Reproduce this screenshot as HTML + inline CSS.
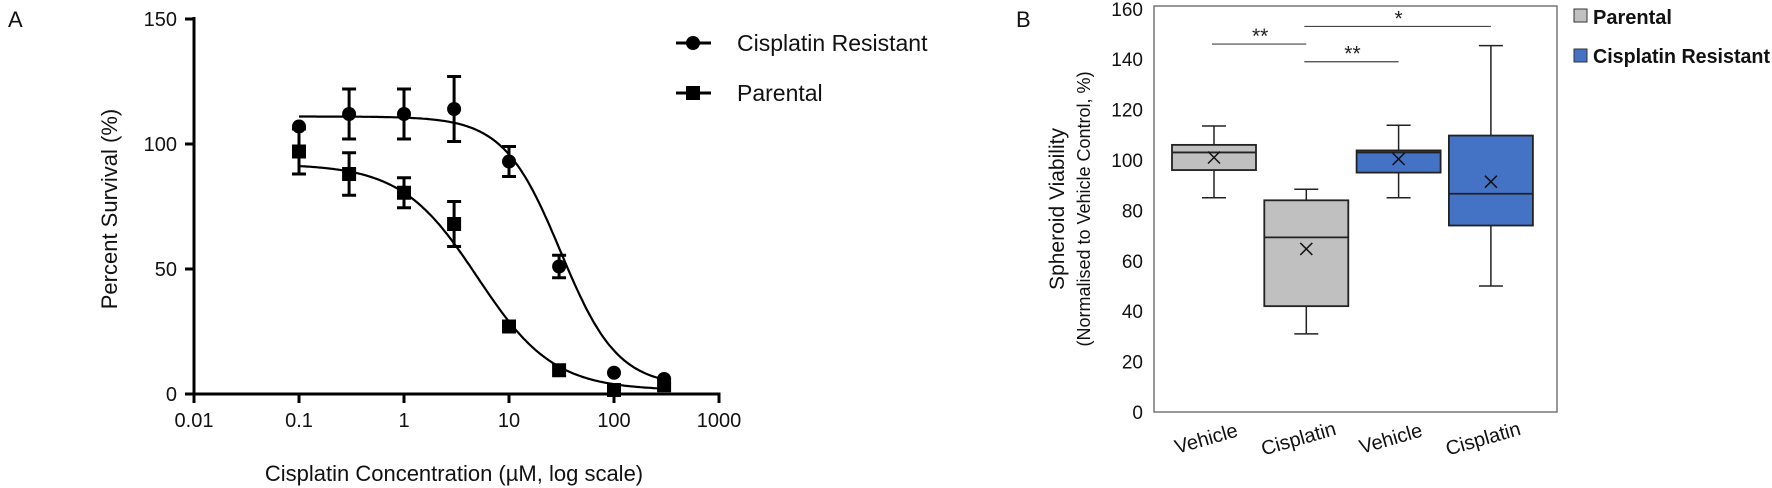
<!DOCTYPE html>
<html><head><meta charset="utf-8"><style>
html,body{margin:0;padding:0;background:#fff;}
svg{display:block;font-family:"Liberation Sans",sans-serif;}
</style></head><body>
<svg id="fig" width="1772" height="488" viewBox="0 0 1772 488">
<g id="A"></g>
<g id="B"></g>
</svg>
<script>
// ---- Panel A data ----
const doses = [0.1, 0.3, 1, 3, 10, 30, 100, 300];
const resistantMean = [107, 112, 112, 114, 93, 51, 8.5, 6];
const resistantErr = [0, 10, 10, 13, 6, 4.5, 0, 0];
const parentalMean = [97, 88, 80.5, 68, 27, 9.5, 1.6, 3.5];
const parentalErr = [9, 8.5, 6, 9, 0, 0, 0, 0];
const resistantFit = [111, 3, 31, 1.6];   // top, bottom, IC50, hill
const parentalFit = [92, 1.5, 5, 1.2];
const xTicksA = [0.01, 0.1, 1, 10, 100, 1000];
const xTickLabelsA = ["0.01", "0.1", "1", "10", "100", "1000"];
const yTicksA = [0, 50, 100, 150];

// ---- Panel B data ----
const categoriesB = ["Vehicle", "Cisplatin", "Vehicle", "Cisplatin"];
const groupB = ["Parental", "Parental", "Resistant", "Resistant"];
const whiskerLow = [85, 31, 85, 50];
const q1 = [96, 42, 95, 74];
const medianB = [103, 69.3, 103, 86.6];
const q3 = [106, 84, 103.8, 109.7];
const whiskerHigh = [113.5, 88.4, 113.8, 145.4];
const meanB = [101, 64.7, 100.4, 91.4];
const yTicksB = [0, 20, 40, 60, 80, 100, 120, 140, 160];
const sigFrom = [0, 1, 1];
const sigTo = [1, 2, 3];
const sigLabel = ["**", "**", "*"];
const sigLevel = [146, 139, 153];

const NS = "http://www.w3.org/2000/svg";
function mk(parent, tag, attrs, text){
  const e = document.createElementNS(NS, tag);
  for (const k in attrs) e.setAttribute(k, attrs[k]);
  if (text !== undefined) e.textContent = text;
  parent.appendChild(e); return e;
}

// ===== Panel A =====
const A = document.getElementById('A');
const ax0 = 194, decade = 105, ay0 = 394, ayPer = 2.5;
const xA = v => ax0 + (Math.log10(v) + 2) * decade;
const yA = v => ay0 - v * ayPer;
let t;
t = mk(A, 'text', {x: 8, y: 27, 'font-size': 22, fill: '#111'}, 'A');


let ln = mk(A, 'line', {x1: ax0, y1: yA(150) - 2, x2: ax0, y2: ay0 + 1.5, stroke: '#000', 'stroke-width': 3});


ln = mk(A, 'line', {x1: ax0 - 1.5, y1: ay0, x2: xA(1000) + 1.5, y2: ay0, stroke: '#000', 'stroke-width': 3});


yTicksA.forEach(v => {
  mk(A, 'line', {x1: ax0 - 9, y1: yA(v), x2: ax0, y2: yA(v), stroke: '#000', 'stroke-width': 3});
  const tt = mk(A, 'text', {x: 177, y: yA(v) + 7, 'text-anchor': 'end', 'font-size': 20, fill: '#111'}, String(v));
  
  
});
xTicksA.forEach((v, i) => {
  mk(A, 'line', {x1: xA(v), y1: ay0, x2: xA(v), y2: ay0 + 9, stroke: '#000', 'stroke-width': 3});
  const tt = mk(A, 'text', {x: xA(v), y: 427, 'text-anchor': 'middle', 'font-size': 20, fill: '#111'}, xTickLabelsA[i]);
  
  
});
t = mk(A, 'text', {x: 454, y: 481, 'text-anchor': 'middle', 'font-size': 22, fill: '#111'}, 'Cisplatin Concentration (\u00b5M, log scale)');


t = mk(A, 'text', {x: 0, y: 0, 'text-anchor': 'middle', 'font-size': 22, fill: '#111', transform: 'translate(117,209) rotate(-90)'}, 'Percent Survival (%)');



function curve(p){
  let d = '';
  for (let i = 0; i <= 200; i++) {
    const lx = Math.log10(0.1) + (Math.log10(300) - Math.log10(0.1)) * i / 200;
    const x = Math.pow(10, lx);
    const y = p[1] + (p[0] - p[1]) / (1 + Math.pow(x / p[2], p[3]));
    d += (i ? 'L' : 'M') + xA(x).toFixed(1) + ',' + yA(y).toFixed(1);
  }
  return d;
}
let c = mk(A, 'path', {d: curve(resistantFit), fill: 'none', stroke: '#000', 'stroke-width': 2.2});


c = mk(A, 'path', {d: curve(parentalFit), fill: 'none', stroke: '#000', 'stroke-width': 2.2});



function errbar(x, m, e){
  if (!e) return;
  mk(A, 'line', {x1: x, y1: yA(m + e), x2: x, y2: yA(m - e), stroke: '#000', 'stroke-width': 3});
  mk(A, 'line', {x1: x - 7, y1: yA(m + e), x2: x + 7, y2: yA(m + e), stroke: '#000', 'stroke-width': 3});
  mk(A, 'line', {x1: x - 7, y1: yA(m - e), x2: x + 7, y2: yA(m - e), stroke: '#000', 'stroke-width': 3});
}
doses.forEach((d, i) => {
  errbar(xA(d), parentalMean[i], parentalErr[i]);
  const s = mk(A, 'rect', {x: xA(d) - 7, y: yA(parentalMean[i]) - 7, width: 14, height: 14, fill: '#000'});
  
  
});
doses.forEach((d, i) => {
  errbar(xA(d), resistantMean[i], resistantErr[i]);
  const s = mk(A, 'circle', {cx: xA(d), cy: yA(resistantMean[i]), r: 7, fill: '#000'});
  
  
});
// legend A
let lg = mk(A, 'g', {});


mk(lg, 'line', {x1: 676, y1: 43, x2: 711, y2: 43, stroke: '#000', 'stroke-width': 3});
mk(lg, 'circle', {cx: 693, cy: 43, r: 7, fill: '#000'});
mk(lg, 'text', {x: 737, y: 51, 'font-size': 23, fill: '#111'}, 'Cisplatin Resistant');
lg = mk(A, 'g', {});


mk(lg, 'line', {x1: 676, y1: 93, x2: 711, y2: 93, stroke: '#000', 'stroke-width': 3});
mk(lg, 'rect', {x: 686, y: 86, width: 14, height: 14, fill: '#000'});
mk(lg, 'text', {x: 737, y: 101, 'font-size': 23, fill: '#111'}, 'Parental');

// ===== Panel B =====
const B = document.getElementById('B');
const by0 = 412, byPer = 2.52, bx0 = 1154, bx1 = 1557;
const yB = v => by0 - v * byPer;
const xB = i => 1214 + i * 92.3;
const bw = 84;
t = mk(B, 'text', {x: 1016, y: 27, 'font-size': 22, fill: '#111'}, 'B');


let fr = mk(B, 'rect', {x: bx0, y: 6, width: bx1 - bx0, height: by0 - 6, fill: 'none', stroke: '#777', 'stroke-width': 1.5});


yTicksB.forEach(v => {
  const tt = mk(B, 'text', {x: 1143, y: yB(v) + 7, 'text-anchor': 'end', 'font-size': 19, fill: '#111'}, String(v));
  
  
});
t = mk(B, 'text', {x: 0, y: 0, 'text-anchor': 'middle', 'font-size': 21, fill: '#111', transform: 'translate(1064,209) rotate(-90)'}, 'Spheroid Viability');


t = mk(B, 'text', {x: 0, y: 0, 'text-anchor': 'middle', 'font-size': 18, fill: '#111', transform: 'translate(1090,209) rotate(-90)'}, '(Normalised to Vehicle Control, %)');



categoriesB.forEach((cat, i) => {
  const cx = xB(i);
  const fill = groupB[i] === 'Parental' ? '#c0c0c0' : '#4472c4';
  const g = mk(B, 'g', {});
  
  
  mk(g, 'line', {x1: cx, y1: yB(whiskerHigh[i]), x2: cx, y2: yB(q3[i]), stroke: '#222', 'stroke-width': 1.5});
  mk(g, 'line', {x1: cx, y1: yB(whiskerLow[i]), x2: cx, y2: yB(q1[i]), stroke: '#222', 'stroke-width': 1.5});
  mk(g, 'line', {x1: cx - 12, y1: yB(whiskerHigh[i]), x2: cx + 12, y2: yB(whiskerHigh[i]), stroke: '#222', 'stroke-width': 1.5});
  mk(g, 'line', {x1: cx - 12, y1: yB(whiskerLow[i]), x2: cx + 12, y2: yB(whiskerLow[i]), stroke: '#222', 'stroke-width': 1.5});
  mk(g, 'rect', {x: cx - bw / 2, y: yB(q3[i]), width: bw, height: yB(q1[i]) - yB(q3[i]), fill: fill, stroke: '#222', 'stroke-width': 1.8});
  mk(g, 'line', {x1: cx - bw / 2, y1: yB(medianB[i]), x2: cx + bw / 2, y2: yB(medianB[i]), stroke: '#222', 'stroke-width': 1.8});
  const my = yB(meanB[i]);
  mk(g, 'path', {d: `M${cx-6},${my-6}L${cx+6},${my+6}M${cx+6},${my-6}L${cx-6},${my+6}`, stroke: '#111', 'stroke-width': 1.5});
  const tt = mk(B, 'text', {x: 0, y: 0, 'text-anchor': 'middle', 'font-size': 20, fill: '#111', transform: `translate(${cx-6},${445}) rotate(-16)`}, cat);
  
  
});
sigLabel.forEach((lab, k) => {
  const y = yB(sigLevel[k]);
  const x1 = xB(sigFrom[k]), x2 = xB(sigTo[k]);
  const l = mk(B, 'line', {x1: x1 - 2, y1: y, x2: x2, y2: y, stroke: '#444', 'stroke-width': 1.2});
  
  
  const tt = mk(B, 'text', {x: (x1 + x2) / 2, y: y - 1, 'text-anchor': 'middle', 'font-size': 21, fill: '#222'}, lab);
  
  
});
// legend B
lg = mk(B, 'g', {});


mk(lg, 'rect', {x: 1574, y: 9, width: 13, height: 13, fill: '#c0c0c0', stroke: '#333', 'stroke-width': 1});
mk(lg, 'text', {x: 1593, y: 24, 'font-size': 20, 'font-weight': 'bold', fill: '#111', textLength: 79, lengthAdjust: 'spacingAndGlyphs'}, 'Parental');
lg = mk(B, 'g', {});


mk(lg, 'rect', {x: 1574, y: 49, width: 13, height: 13, fill: '#4472c4', stroke: '#333', 'stroke-width': 1});
mk(lg, 'text', {x: 1593, y: 63, 'font-size': 20, 'font-weight': 'bold', fill: '#111', textLength: 177, lengthAdjust: 'spacingAndGlyphs'}, 'Cisplatin Resistant');
</script>
</body></html>
